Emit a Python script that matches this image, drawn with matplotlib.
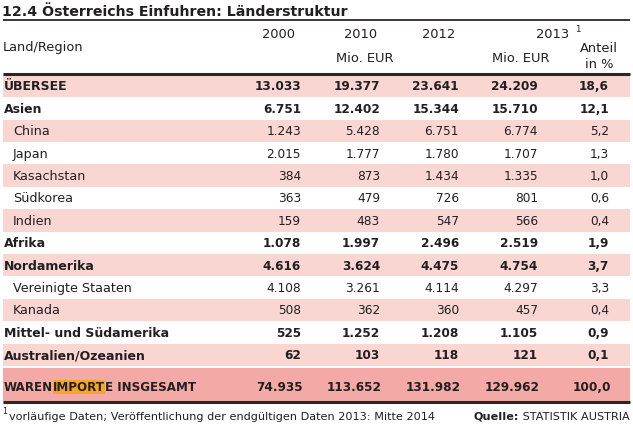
import matplotlib
matplotlib.use("Agg")
import matplotlib.pyplot as plt
from matplotlib.patches import Rectangle

# ---------------- data ----------------
labels = ["ÜBERSEE", "Asien", "China", "Japan", "Kasachstan", "Südkorea", "Indien",
          "Afrika", "Nordamerika", "Vereinigte Staaten", "Kanada",
          "Mittel- und Südamerika", "Australien/Ozeanien"]
is_region = [True, True, False, False, False, False, False,
             True, True, False, False, True, True]
v2000 = [13033, 6751, 1243, 2015, 384, 363, 159, 1078, 4616, 4108, 508, 525, 62]
v2010 = [19377, 12402, 5428, 1777, 873, 479, 483, 1997, 3624, 3261, 362, 1252, 103]
v2012 = [23641, 15344, 6751, 1780, 1434, 726, 547, 2496, 4475, 4114, 360, 1208, 118]
v2013 = [24209, 15710, 6774, 1707, 1335, 801, 566, 2519, 4754, 4297, 457, 1105, 121]
share2013 = [18.6, 12.1, 5.2, 1.3, 1.0, 0.6, 0.4, 1.9, 3.7, 3.3, 0.4, 0.9, 0.1]
total_label = ["WAREN", "IMPORT", "E INSGESAMT"]
total_vals = [74935, 113652, 131982, 129962]
total_share = 100.0
col_years = ["2000", "2010", "2012", "2013"]
title = "12.4 Österreichs Einfuhren: Länderstruktur"
footnote = "vorläufige Daten; Veröffentlichung der endgültigen Daten 2013: Mitte 2014"
source_bold = "Quelle:"
source = " STATISTIK AUSTRIA"

# ---------------- style ----------------
W, H = 633, 427
DPI = 100
TXT = "#231f20"
PINK = "#fad6d3"
DARKPINK = "#f3aaa7"
ORANGE = "#f6a623"
LINE = "#2e2523"
FONT = "DejaVu Sans"
FS_NUM = 8.7
FS_LAB_B = 9.0
FS_LAB_R = 9.2
FS_TOT = 8.6
FS_HEAD = 9.4
FS_FOOT = 8.1

fig = plt.figure(figsize=(W / DPI, H / DPI), dpi=DPI)
ax = fig.add_axes([0, 0, 1, 1])
ax.set_xlim(0, W)
ax.set_ylim(H, 0)
ax.axis("off")

def fmt_int(v):
    return f"{v:,}".replace(",", ".")

def fmt_pct(v):
    return f"{v:.1f}".replace(".", ",")

def txt(x, y, s, fs, ha="left", bold=False, **kw):
    return ax.text(x, y, s, fontsize=fs, fontweight="bold" if bold else "normal",
                   color=TXT, ha=ha, va="center", family=FONT, **kw)

# title
txt(2, 12, title, 10.2, bold=True)
ax.plot([3, 630], [21, 21], color=LINE, lw=1.3, solid_capstyle="butt")

# header
txt(3, 47, "Land/Region", FS_HEAD)
col_right = [301, 380, 459, 538]
share_right = 609
txt(295, 34, col_years[0], FS_HEAD, ha="right")
txt(377, 34, col_years[1], FS_HEAD, ha="right")
txt(393, 58, "Mio. EUR", FS_HEAD, ha="right")
txt(455, 34, col_years[2], FS_HEAD, ha="right")
txt(569, 34, col_years[3], FS_HEAD, ha="right")
txt(575, 30, "1", 6.2)
txt(550, 58, "Mio. EUR", FS_HEAD, ha="right")
txt(599, 48, "Anteil", FS_HEAD, ha="center")
txt(599, 64, "in %", FS_HEAD, ha="center")
ax.plot([3, 630], [75, 75], color=LINE, lw=2.2, solid_capstyle="butt")

# rows
y0, step = 87, 22.4
for i, lab in enumerate(labels):
    yc = y0 + i * step
    if i % 2 == 0:
        ax.add_patch(Rectangle((3, yc - step / 2), 627, step, facecolor=PINK,
                               edgecolor="none", zorder=0))
    b = is_region[i]
    if b:
        txt(4, yc, lab, FS_LAB_B, bold=True)
    else:
        txt(13, yc, lab, FS_LAB_R)
    for xr, vals in zip(col_right, [v2000, v2010, v2012, v2013]):
        txt(xr, yc, fmt_int(vals[i]), FS_NUM, ha="right", bold=b)
    txt(share_right, yc, fmt_pct(share2013[i]), FS_NUM, ha="right", bold=b)

# total row
ty = 388
ax.add_patch(Rectangle((3, 368.5), 627, 34.5, facecolor=DARKPINK, edgecolor="none", zorder=0))
fig.canvas.draw()
renderer = fig.canvas.get_renderer()
inv = ax.transData.inverted()
x = 4
for k, part in enumerate(total_label):
    t = txt(x, ty, part, FS_TOT, bold=True, zorder=3)
    bb = t.get_window_extent(renderer)
    (x0d, _), (x1d, _) = inv.transform([[bb.x0, bb.y0], [bb.x1, bb.y1]])
    if k == 1:
        ax.add_patch(Rectangle((x0d, ty - 7), x1d - x0d, 14, facecolor=ORANGE,
                               edgecolor="none", zorder=1))
    x = x1d
for xr, v in zip(col_right, total_vals):
    txt(xr + 2, ty, fmt_int(v), FS_NUM, ha="right", bold=True)
txt(share_right + 2, ty, fmt_pct(total_share), FS_NUM, ha="right", bold=True)
ax.plot([3, 630], [403, 403], color=LINE, lw=2.2, solid_capstyle="butt")

# footnote / source
txt(2, 412, "1", 5.8)
txt(9, 417, footnote, FS_FOOT)
ts = txt(630, 417, source, FS_FOOT, ha="right")
bb = ts.get_window_extent(renderer)
xs = inv.transform([[bb.x0, bb.y0]])[0][0]
txt(xs, 417, source_bold, FS_FOOT, ha="right", bold=True)

fig.savefig("out.png", dpi=DPI)
